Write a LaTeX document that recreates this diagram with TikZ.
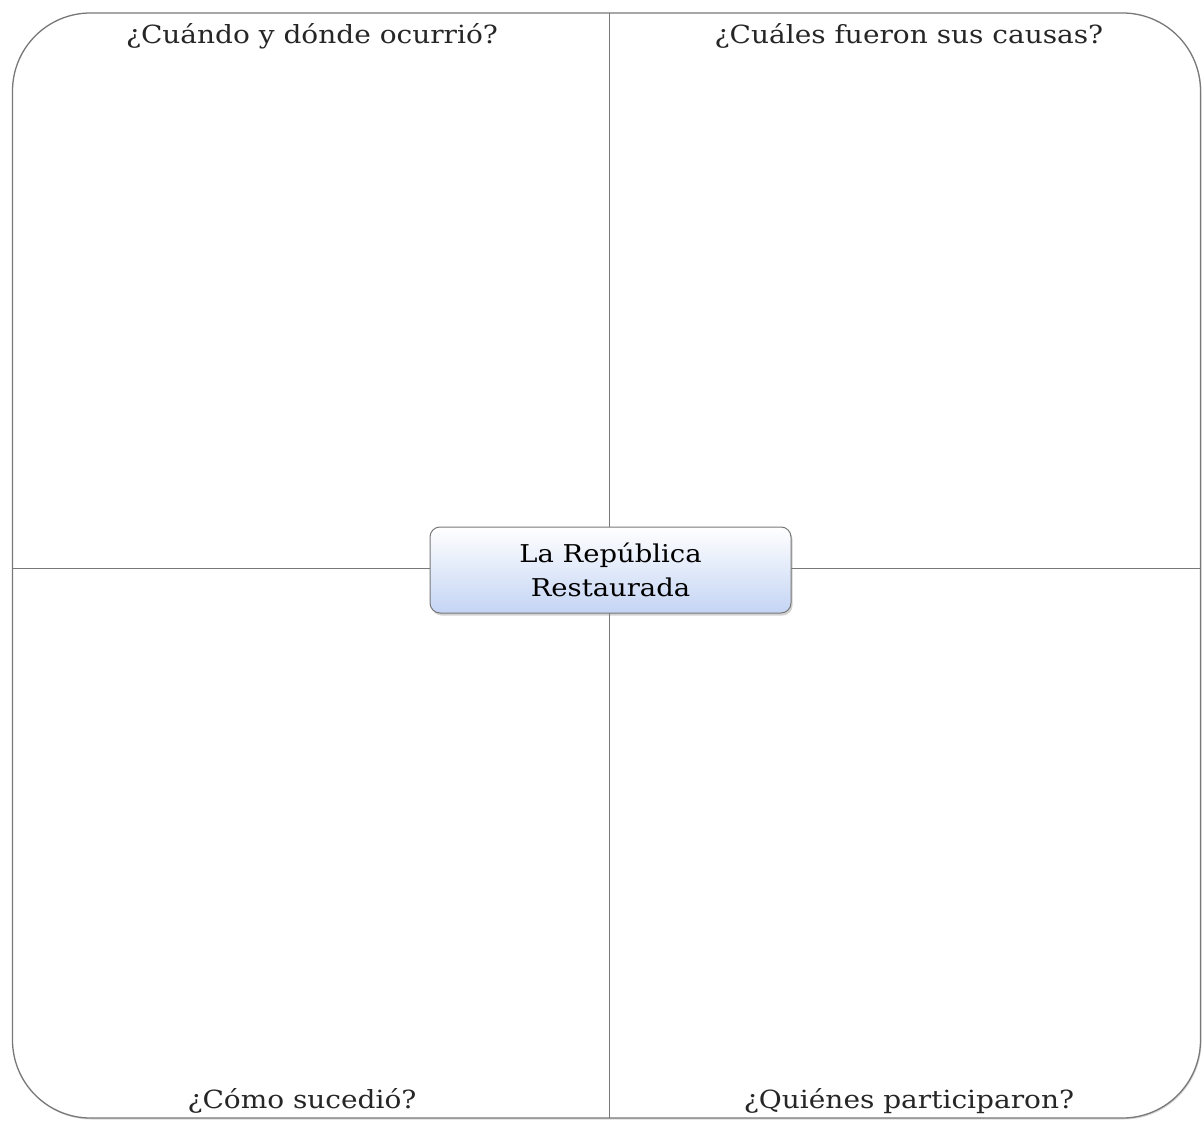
\documentclass[tikz,border=0pt]{standalone}
\usepackage{fontspec}
\setmainfont[FakeStretch=1.12]{DejaVu Serif}
\usetikzlibrary{shadows}

\definecolor{borde}{RGB}{120,120,120}
\definecolor{celeste}{RGB}{196,212,244}

\tikzset{
	pregunta/.style={font=\fontsize{25}{28}\selectfont, text=black!85, inner sep=0pt},
	tema/.style={draw=borde, line width=1pt, rounded corners=10pt, top color=white, bottom color=celeste,
		minimum width=361pt, minimum height=86pt, align=center, font=\fontsize{24.5}{34}\selectfont,
		drop shadow={shadow xshift=1.5pt, shadow yshift=-2.5pt, opacity=0.35}},
}

\begin{document}
\begin{tikzpicture}[x=1pt, y=1pt]
	\useasboundingbox[fill=white] (0,0) rectangle (1202,-1123);

	% marco exterior
	\node[draw=borde, line width=1.3pt, fill=white, rounded corners=78pt, minimum width=1188pt, minimum height=1105pt,
		drop shadow={shadow xshift=1pt, shadow yshift=-1.5pt, opacity=0.3}] (marco) at (606.5,-565.5) {};

	\coordinate (arriba) at (609,-13);
	\coordinate (abajo) at (609,-1118);
	\coordinate (izq) at (12,-568);
	\coordinate (der) at (1201,-568);

	\draw[borde, line width=1pt] (arriba) -- (abajo);
	\draw[borde, line width=1pt] (izq) -- (der);

	\node[tema] (centro) at (610.5,-570) {La República\\Restaurada};

	\node[pregunta] (cuando) at (312,-36) {¿Cuándo y dónde ocurrió?};
	\node[pregunta] (causas) at (909,-36) {¿Cuáles fueron sus causas?};
	\node[pregunta] (como) at (302,-1101) {¿Cómo sucedió?};
	\node[pregunta] (quienes) at (909,-1101) {¿Quiénes participaron?};
\end{tikzpicture}
\end{document}
